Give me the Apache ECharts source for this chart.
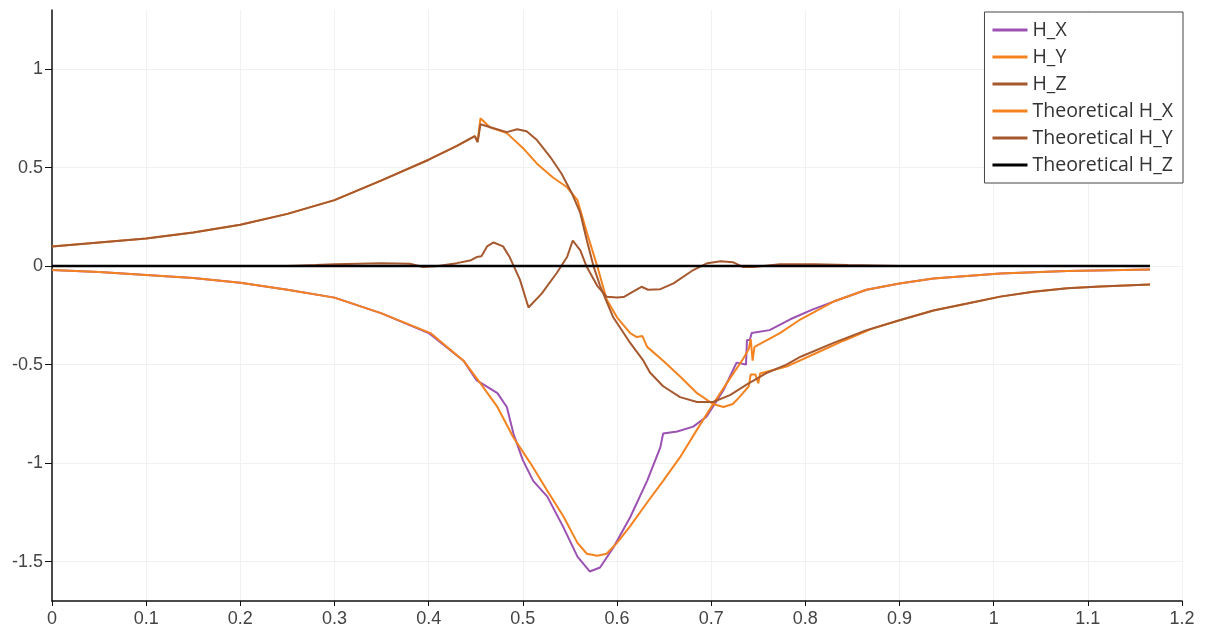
<!DOCTYPE html>
<html>
<head>
<meta charset="utf-8">
<script src="https://cdn.jsdelivr.net/npm/echarts@6/dist/echarts.min.js"></script>
<style>
html,body{margin:0;padding:0;background:#fff;}
#chart{width:1209px;height:635px;}
</style>
</head>
<body>
<div id="chart"></div>
<script>
const seriesNames = ['H_X', 'H_Y', 'H_Z', 'Theoretical H_X', 'Theoretical H_Y', 'Theoretical H_Z'];

const hxX = [0, 0.05, 0.1, 0.15, 0.2, 0.25, 0.3, 0.35, 0.4, 0.437, 0.451, 0.458, 0.473, 0.483, 0.49, 0.5, 0.511, 0.526, 0.543, 0.558, 0.571, 0.582, 0.596, 0.614, 0.632, 0.646, 0.649, 0.664, 0.681, 0.695, 0.713, 0.727, 0.737, 0.738, 0.741, 0.743, 0.762, 0.784, 0.808, 0.83, 0.865, 0.9, 0.936, 1.007, 1.078, 1.166];
const hxY = [-0.02, -0.03, -0.045, -0.06, -0.085, -0.12, -0.16, -0.24, -0.34, -0.48, -0.58, -0.6, -0.645, -0.715, -0.85, -0.985, -1.09, -1.17, -1.325, -1.475, -1.55, -1.53, -1.43, -1.275, -1.09, -0.92, -0.85, -0.84, -0.815, -0.765, -0.63, -0.49, -0.5, -0.375, -0.375, -0.34, -0.325, -0.27, -0.22, -0.18, -0.12, -0.088, -0.063, -0.037, -0.025, -0.017];

const hyX = [0, 0.05, 0.1, 0.15, 0.2, 0.25, 0.3, 0.35, 0.4, 0.43, 0.449, 0.452, 0.455, 0.465, 0.483, 0.5, 0.515, 0.532, 0.547, 0.558, 0.568, 0.579, 0.589, 0.6, 0.614, 0.621, 0.627, 0.632, 0.649, 0.667, 0.685, 0.702, 0.713, 0.723, 0.73, 0.74, 0.742, 0.747, 0.75, 0.752, 0.78, 0.81, 0.84, 0.87, 0.9, 0.936, 0.972, 1.007, 1.042, 1.078, 1.113, 1.166];
const hyY = [0.1, 0.12, 0.14, 0.17, 0.21, 0.265, 0.335, 0.435, 0.54, 0.61, 0.66, 0.63, 0.75, 0.705, 0.675, 0.6, 0.52, 0.45, 0.4, 0.335, 0.17, 0.0, -0.17, -0.26, -0.34, -0.36, -0.355, -0.41, -0.48, -0.56, -0.645, -0.7, -0.715, -0.7, -0.665, -0.61, -0.55, -0.55, -0.595, -0.545, -0.51, -0.445, -0.38, -0.32, -0.275, -0.225, -0.19, -0.155, -0.13, -0.113, -0.103, -0.093];

const hzX = [0, 0.25, 0.28, 0.3, 0.35, 0.38, 0.394, 0.41, 0.43, 0.445, 0.451, 0.456, 0.462, 0.469, 0.479, 0.486, 0.497, 0.506, 0.52, 0.536, 0.547, 0.553, 0.561, 0.568, 0.579, 0.589, 0.6, 0.607, 0.617, 0.626, 0.633, 0.646, 0.66, 0.681, 0.696, 0.71, 0.723, 0.734, 0.745, 0.773, 0.81, 0.845, 0.9, 1.166];
const hzY = [0, 0, 0.005, 0.01, 0.015, 0.012, -0.005, 0.0, 0.015, 0.03, 0.046, 0.05, 0.1, 0.12, 0.1, 0.046, -0.07, -0.21, -0.14, -0.035, 0.046, 0.13, 0.08, -0.005, -0.1, -0.155, -0.16, -0.157, -0.13, -0.105, -0.12, -0.117, -0.088, -0.02, 0.015, 0.025, 0.02, -0.005, -0.005, 0.01, 0.01, 0.005, 0, 0];

const thxX = [0, 0.05, 0.1, 0.15, 0.2, 0.25, 0.3, 0.35, 0.402, 0.437, 0.455, 0.473, 0.49, 0.508, 0.526, 0.543, 0.558, 0.568, 0.579, 0.589, 0.6, 0.614, 0.632, 0.649, 0.667, 0.685, 0.702, 0.72, 0.734, 0.74, 0.742, 0.744, 0.746, 0.773, 0.795, 0.83, 0.865, 0.9, 0.936, 1.007, 1.078, 1.166];
const thxY = [-0.02, -0.03, -0.045, -0.06, -0.085, -0.12, -0.16, -0.24, -0.34, -0.48, -0.595, -0.715, -0.87, -1.0, -1.14, -1.27, -1.405, -1.46, -1.47, -1.46, -1.405, -1.32, -1.2, -1.09, -0.97, -0.83, -0.7, -0.57, -0.47, -0.42, -0.37, -0.48, -0.41, -0.34, -0.27, -0.18, -0.12, -0.088, -0.063, -0.037, -0.025, -0.017];

const thyX = [0, 0.05, 0.1, 0.15, 0.2, 0.25, 0.3, 0.35, 0.4, 0.43, 0.449, 0.452, 0.455, 0.469, 0.483, 0.494, 0.504, 0.515, 0.529, 0.541, 0.552, 0.561, 0.568, 0.575, 0.582, 0.596, 0.614, 0.628, 0.635, 0.649, 0.667, 0.685, 0.702, 0.72, 0.738, 0.76, 0.78, 0.795, 0.83, 0.865, 0.9, 0.936, 0.972, 1.007, 1.042, 1.078, 1.113, 1.166];
const thyY = [0.1, 0.12, 0.14, 0.17, 0.21, 0.265, 0.335, 0.435, 0.54, 0.61, 0.66, 0.63, 0.72, 0.7, 0.68, 0.695, 0.685, 0.64, 0.555, 0.47, 0.37, 0.27, 0.13, 0.0, -0.1, -0.26, -0.39, -0.48, -0.54, -0.61, -0.665, -0.69, -0.69, -0.655, -0.6, -0.54, -0.5, -0.46, -0.39, -0.325, -0.275, -0.225, -0.19, -0.155, -0.13, -0.113, -0.103, -0.093];

const thzX = [0, 1.166];
const thzY = [0, 0];

const xTicks = [0, 0.1, 0.2, 0.3, 0.4, 0.5, 0.6, 0.7, 0.8, 0.9, 1, 1.1, 1.2];
const yTicks = [-1.5, -1, -0.5, 0, 0.5, 1];

const colors = ['#9b52b3', '#f4831f', '#a6592f', '#f4831f', '#a6592f', '#000000'];
const widths = [2, 2, 2, 2, 2, 2.5];

function pairs(xs, ys) { return xs.map((x, i) => [x, ys[i]]); }
const allData = [pairs(hxX, hxY), pairs(hyX, hyY), pairs(hzX, hzY), pairs(thxX, thxY), pairs(thyX, thyY), pairs(thzX, thzY)];

const chart = echarts.init(document.getElementById('chart'), null, {renderer: 'canvas'});
const font = 'Liberation Sans, Arial, sans-serif';
chart.setOption({
  animation: false,
  backgroundColor: '#fff',
  grid: {left: 52, right: 27, top: 10, bottom: 34, containLabel: false},
  legend: {
    orient: 'vertical',
    right: 26,
    top: 12,
    data: seriesNames,
    icon: 'rect',
    itemWidth: 35,
    itemHeight: 3,
    itemGap: 7,
    padding: [8, 10, 8, 8],
    borderColor: '#444',
    borderWidth: 1,
    backgroundColor: '#fff',
    textStyle: {fontFamily: 'Open Sans, Liberation Sans, sans-serif', fontSize: 19.5, color: '#333', lineHeight: 20}
  },
  xAxis: {
    type: 'value', min: 0, max: 1.2, interval: 0.1,
    axisLine: {show: true, onZero: false, lineStyle: {color: '#111', width: 1.5}},
    axisTick: {show: true, length: 5, lineStyle: {color: '#111'}},
    axisLabel: {fontFamily: font, fontSize: 18, color: '#444', margin: 9,
      formatter: v => String(Math.round(v * 10) / 10)},
    splitLine: {show: true, lineStyle: {color: '#f1f1f1', width: 1}}
  },
  yAxis: {
    type: 'value', min: -1.7, max: 1.3,
    axisLine: {show: true, onZero: false, lineStyle: {color: '#111', width: 1.5}},
    axisTick: {show: true, length: 7, customValues: yTicks, lineStyle: {color: '#111'}},
    axisLabel: {fontFamily: font, fontSize: 18, color: '#444', margin: 9, customValues: yTicks,
      formatter: v => String(v)},
    splitLine: {show: true, lineStyle: {color: '#f1f1f1', width: 1}}
  },
  series: seriesNames.map((n, i) => ({
    name: n, type: 'line', data: allData[i], symbol: 'none', showSymbol: false,
    color: colors[i],
    lineStyle: {color: colors[i], width: widths[i]},
    itemStyle: {color: colors[i]}
  }))
});
</script>
</body>
</html>
